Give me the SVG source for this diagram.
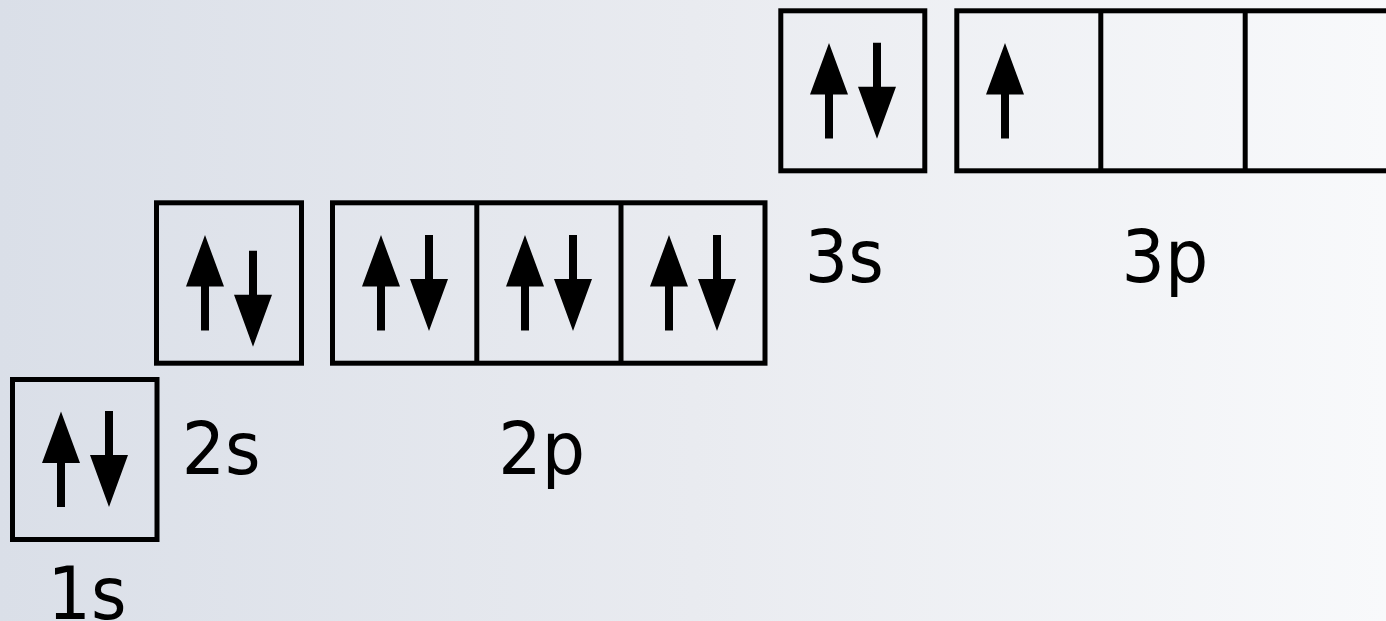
<svg xmlns="http://www.w3.org/2000/svg" xmlns:xlink="http://www.w3.org/1999/xlink" width="1386" height="621" viewBox="0 0 1386 621">
<style>
.box{fill:none;stroke:#000;stroke-width:5}
.lbl{font-family:"DejaVu Sans","Verdana",sans-serif;font-size:73px;fill:#000}
</style>
<defs>
<linearGradient id="bg" x1="0" y1="0" x2="1" y2="0">
<stop offset="0" stop-color="#dadfe8"/>
<stop offset="0.5" stop-color="#e9ebf0"/>
<stop offset="1" stop-color="#f8f9fb"/>
</linearGradient>
<path id="up" d="M0,0 L19,51.5 L4,51.5 L4,95.5 L-4,95.5 L-4,51.5 L-19,51.5 Z" fill="#000"/>
<path id="dn" d="M-4,0 L4,0 L4,44 L19,44 L0,96 L-19,44 L-4,44 Z" fill="#000"/>
</defs>
<rect width="1386" height="621" fill="url(#bg)"/>
<g id="orbital-1s">
<rect class="box" x="12.5" y="379.5" width="144.5" height="160"/>
<use xlink:href="#up" x="61" y="411.5"/>
<use xlink:href="#dn" x="109" y="411"/>
<text class="lbl" transform="translate(47.5,619) scale(0.935,1)">1s</text>
</g>
<g id="orbital-2s">
<rect class="box" x="156.5" y="202.8" width="145" height="160.4"/>
<use xlink:href="#up" x="205" y="235"/>
<use xlink:href="#dn" x="253" y="250.7"/>
<text class="lbl" transform="translate(181.7,474) scale(0.935,1)">2s</text>
</g>
<g id="orbital-2p">
<rect class="box" x="332.5" y="202.8" width="432.5" height="160.4"/>
<line class="box" x1="476.8" y1="202.8" x2="476.8" y2="363.2"/>
<line class="box" x1="621" y1="202.8" x2="621" y2="363.2"/>
<use xlink:href="#up" x="381" y="235"/>
<use xlink:href="#dn" x="429" y="235"/>
<use xlink:href="#up" x="525" y="235"/>
<use xlink:href="#dn" x="573" y="235"/>
<use xlink:href="#up" x="669" y="235"/>
<use xlink:href="#dn" x="717" y="235"/>
<text class="lbl" transform="translate(498.3,474) scale(0.935,1)">2p</text>
</g>
<g id="orbital-3s">
<rect class="box" x="780.8" y="10.8" width="144" height="160"/>
<use xlink:href="#up" x="829" y="43"/>
<use xlink:href="#dn" x="877" y="42.7"/>
<text class="lbl" transform="translate(804.8,282) scale(0.935,1)">3s</text>
</g>
<g id="orbital-3p">
<rect class="box" x="956.8" y="10.8" width="432.8" height="160"/>
<line class="box" x1="1100.8" y1="10.8" x2="1100.8" y2="170.8"/>
<line class="box" x1="1245.2" y1="10.8" x2="1245.2" y2="170.8"/>
<use xlink:href="#up" x="1005" y="43"/>
<text class="lbl" transform="translate(1121.5,282) scale(0.935,1)">3p</text>
</g>
<g id="connectors"/>
</svg>
